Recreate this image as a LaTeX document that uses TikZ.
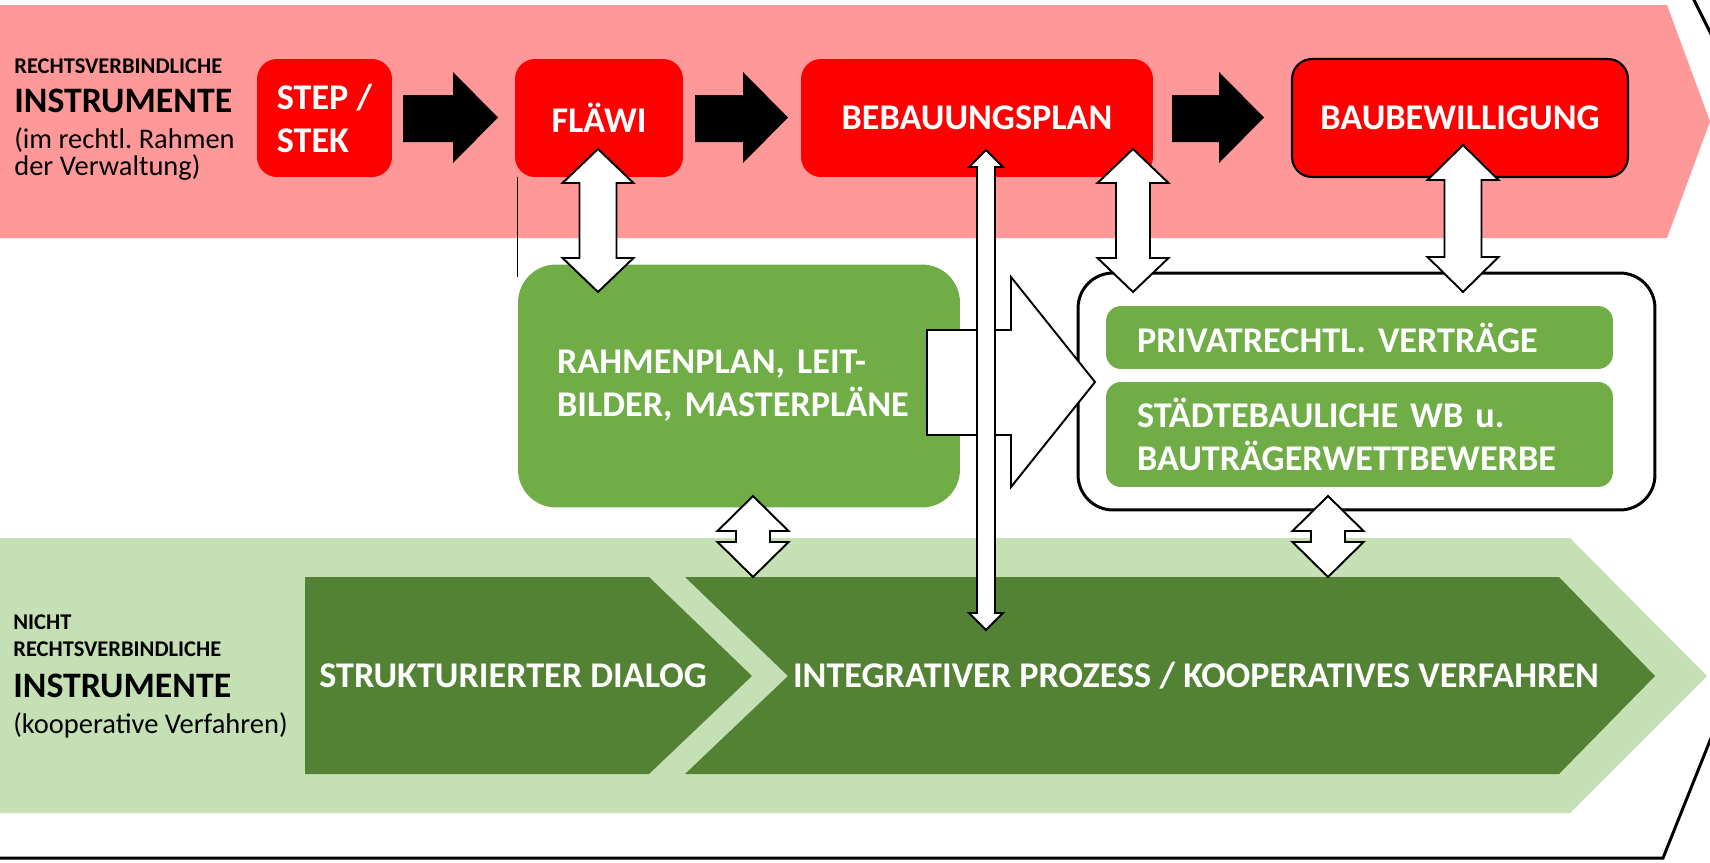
\documentclass[tikz,border=0pt]{standalone}
\usepackage{fontspec}
\setmainfont{Carlito}
\usetikzlibrary{calc}
\definecolor{pinkband}{RGB}{255,153,153}
\definecolor{redfill}{RGB}{255,0,0}
\definecolor{midgreen}{RGB}{112,173,71}
\definecolor{darkgreen}{RGB}{84,130,53}
\definecolor{lightgreen}{RGB}{197,224,180}
\newcommand{\boxfont}{\fontsize{20.6}{24.5}\selectfont\bfseries}
\newcommand{\vdbl}[6]{%
  \draw[blockarrow] (#1,#2) -- ({#1+#4},{#2+#6}) -- ({#1+#5},{#2+#6}) -- ({#1+#5},{#3-#6}) -- ({#1+#4},{#3-#6}) -- (#1,#3) -- ({#1-#4},{#3-#6}) -- ({#1-#5},{#3-#6}) -- ({#1-#5},{#2+#6}) -- ({#1-#4},{#2+#6}) -- cycle;}
\newcommand{\blkarrow}[3]{% x0, xh, xt
  \fill[black] (#1,95) -- (#2,95) -- (#2,72) -- (#3,117.5) -- (#2,163) -- (#2,142) -- (#1,142) -- cycle;}
\frenchspacing
\begin{document}
\begin{tikzpicture}[x=0.02cm,y=-0.02cm,
  blockarrow/.style={draw=black,fill=white,line width=1.1pt,line join=miter},
  redbox/.style={fill=redfill,rounded corners=0.4cm,text=white,font=\boxfont,inner sep=0pt,minimum height=2.36cm},
  greenbox/.style={fill=midgreen,text=white,font=\boxfont,inner sep=0pt},
  lbl/.style={anchor=base west,inner sep=0pt,text=black}]
\useasboundingbox (0,0) rectangle (1710,862);
\begin{scope}
\clip (0,0) rectangle (1710,862);
% bands
\fill[pinkband] (0,5) -- (1667,5) -- (1710,121.5) -- (1667,238) -- (0,238) -- cycle;
\fill[lightgreen] (0,538) -- (1570,538) -- (1707,676) -- (1570,813) -- (0,813) -- cycle;
% outline
\draw[line width=1.7pt] (-10,858) -- (1663,858) -- (1725,703);
\draw[line width=1.7pt] (1693,-2) -- (1725,62);
\end{scope}
% left labels top
\node[lbl,font=\fontsize{12.8}{15}\selectfont\bfseries] (t1) at (14,73) {RECHTSVERBINDLICHE};
\node[lbl,font=\fontsize{20.4}{23}\selectfont\bfseries] (t2) at (14,112) {INSTRUMENTE};
\node[lbl,font=\fontsize{16.2}{19}\selectfont] (t3) at (14,148) {(im rechtl. Rahmen};
\node[lbl,font=\fontsize{16.2}{19}\selectfont] (t4) at (14,175) {der Verwaltung)};
% left labels bottom
\node[lbl,font=\fontsize{12.8}{15}\selectfont\bfseries] (b1) at (13,629) {NICHT};
\node[lbl,font=\fontsize{12.8}{15}\selectfont\bfseries] (b2) at (13,656) {RECHTSVERBINDLICHE};
\node[lbl,font=\fontsize{20.4}{23}\selectfont\bfseries] (b3) at (13,697) {INSTRUMENTE};
\node[lbl,font=\fontsize{16.2}{19}\selectfont] (b4) at (13,733) {(kooperative Verfahren)};
% red boxes
\node[redbox,minimum width=2.70cm,align=left] (step) at (324.5,118) {STEP /\\STEK};
\node[redbox,minimum width=3.36cm] (flawi) at (599,118) {FLÄWI};
\node[redbox,minimum width=7.04cm] (bplan) at (977,118) {BEBAUUNGSPLAN};
\node[redbox,minimum width=6.72cm,draw=black,line width=1.2pt] (baubew) at (1460,118) {BAUBEWILLIGUNG};
% black arrows
\blkarrow{403}{453}{498}
\blkarrow{695}{743}{788}
\blkarrow{1172}{1219}{1264}
% dark green chevrons
\fill[darkgreen] (305,577) -- (649,577) -- (752,676) -- (649,774) -- (305,774) -- cycle;
\fill[darkgreen] (685,577) -- (1559,577) -- (1655,676) -- (1559,774) -- (685,774) -- (788,676) -- cycle;
\node[anchor=west,inner sep=0pt,text=white,font=\boxfont] (strukt) at (319,676) {STRUKTURIERTER DIALOG};
\node[inner sep=0pt,text=white,font=\boxfont] (integ) at (1196,676) {INTEGRATIVER PROZESS / KOOPERATIVES VERFAHREN};
% green frame box
\node[greenbox,rounded corners=0.76cm,minimum width=8.84cm,minimum height=4.86cm,text width=7.28cm,align=left,inner xsep=0.78cm] (rahmen) at (739,386) {RAHMENPLAN, LEIT-\\BILDER, MASTERPLÄNE};
% stray thin line
\draw[line width=0.5pt] (517,177) -- (517,277);
% right white box
\node[draw=black,fill=white,line width=1.7pt,rounded corners=0.7cm,minimum width=11.54cm,minimum height=4.74cm] (bigbox) at (1366.5,391.5) {};
\node[greenbox,rounded corners=0.3cm,minimum width=10.14cm,minimum height=1.26cm,text width=8.9cm,align=left,inner xsep=0.62cm] (priv) at (1359.5,337.5) {PRIVATRECHTL. VERTRÄGE};
\node[greenbox,rounded corners=0.3cm,minimum width=10.14cm,minimum height=2.10cm,text width=8.9cm,align=left,inner xsep=0.62cm] (staedt) at (1359.5,434.5) {STÄDTEBAULICHE WB u.\\BAUTRÄGERWETTBEWERBE};
% big horizontal block arrow
\draw[blockarrow] (927,330) -- (1011,330) -- (1011,277) -- (1095,382) -- (1011,487) -- (1011,435) -- (927,435) -- cycle;
% vertical double arrows
\vdbl{598}{149}{292}{35.5}{18.5}{34}
\vdbl{1133}{149}{292}{35.5}{17}{34}
\vdbl{1463}{145}{292}{35.5}{18.5}{35}
\vdbl{986}{150}{630}{17}{9}{17}
\vdbl{753}{496}{577}{35.5}{17}{35}
\vdbl{1328}{496}{577}{35.5}{17}{35}
\end{tikzpicture}
\end{document}
